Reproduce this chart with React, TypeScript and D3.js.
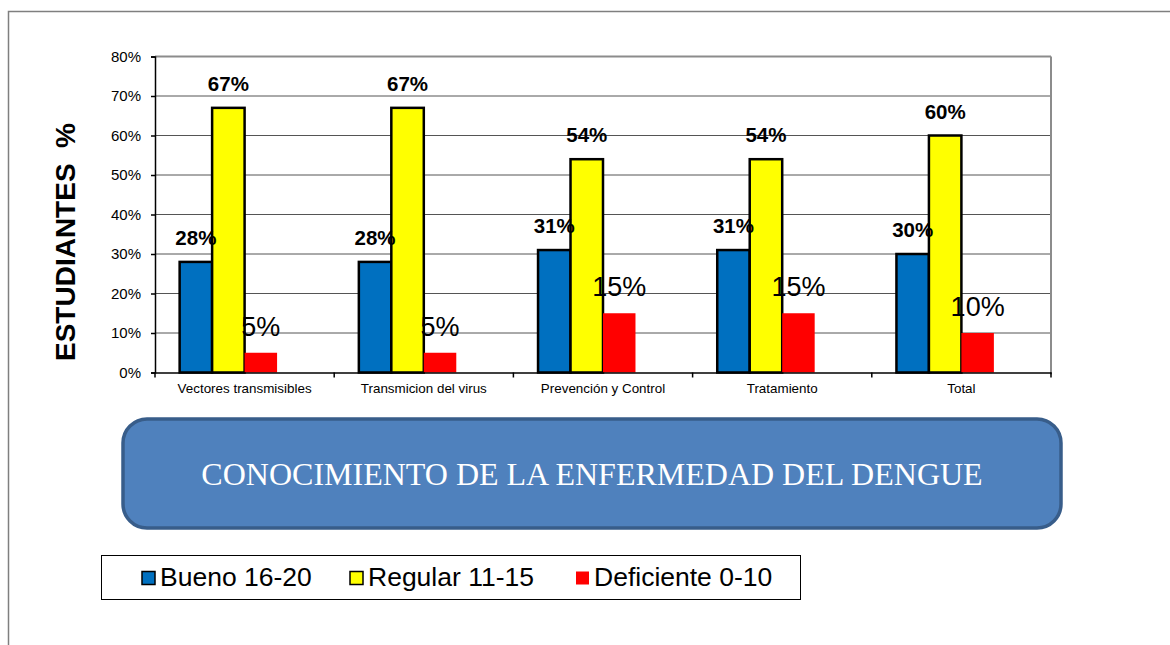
import { useEffect, useRef } from "react";
import { axisBottom, axisLeft, scaleBand, scaleLinear, select } from "d3";

const categories = [
  "Vectores transmisibles",
  "Transmicion del virus",
  "Prevención y Control",
  "Tratamiento",
  "Total",
];
const seriesNames = ["Bueno 16-20", "Regular 11-15", "Deficiente 0-10"];
const bueno = [0.28, 0.28, 0.31, 0.31, 0.3];
const regular = [0.67, 0.67, 0.54, 0.54, 0.6];
const deficiente = [0.05, 0.05, 0.15, 0.15, 0.1];
const yTicks = [0, 0.1, 0.2, 0.3, 0.4, 0.5, 0.6, 0.7, 0.8];
const colors = ["#0070C0", "#FFFF00", "#FF0000"];
const title = "CONOCIMIENTO DE LA ENFERMEDAD DEL DENGUE";
const yTitle = "ESTUDIANTES  %";

const sans = "'Liberation Sans', Arial, sans-serif";

export default function App() {
  const ref = useRef<SVGSVGElement>(null);

  useEffect(() => {
    const root = select(ref.current);
    root.selectAll("*").remove();

    const left = 155;
    const right = 1051;
    const top = 56.5;
    const bottom = 372.5;

    // outer frame (only top and left edges visible)
    root.append("path")
      .attr("d", "M8.5,645 L8.5,11.5 L1170,11.5")
      .attr("fill", "none")
      .attr("stroke", "#7f7f7f")
      .attr("stroke-width", 1.5);

    const x = scaleBand<string>()
      .domain(categories)
      .range([left, right])
      .paddingInner(0.275)
      .paddingOuter(0.1375);

    // four slots per group, the last one is empty
    const inner = scaleBand<string>()
      .domain([...seriesNames, ""])
      .range([0, x.bandwidth()]);

    const y = scaleLinear().domain([0, 0.8]).range([bottom, top]);

    const g = root.append("g");

    // gridlines
    g.selectAll(".grid")
      .data(yTicks.slice(1))
      .enter()
      .append("line")
      .attr("x1", left)
      .attr("x2", right)
      .attr("y1", d => y(d))
      .attr("y2", d => y(d))
      .attr("stroke", d => (d === 0.8 ? "#8c8c8c" : "#555"))
      .attr("stroke-width", d => (d === 0.8 ? 2 : 1));

    // right plot edge
    g.append("line")
      .attr("x1", right)
      .attr("x2", right)
      .attr("y1", top)
      .attr("y2", bottom + 2)
      .attr("stroke", "#8c8c8c")
      .attr("stroke-width", 2);

    const all = [bueno, regular, deficiente];
    all.forEach((vals, si) => {
      g.selectAll(`.bar${si}`)
        .data(vals)
        .enter()
        .append("rect")
        .attr("x", (_d, i) => (x(categories[i]) as number) + (inner(seriesNames[si]) as number))
        .attr("y", d => y(d))
        .attr("width", inner.bandwidth())
        .attr("height", d => bottom - y(d))
        .attr("fill", colors[si])
        .attr("stroke", si === 2 ? "none" : "#000")
        .attr("stroke-width", 2.5);
    });

    // value labels
    all.forEach((vals, si) => {
      g.selectAll(`.lab${si}`)
        .data(vals)
        .enter()
        .append("text")
        .attr("x", (_d, i) => (x(categories[i]) as number) + (inner(seriesNames[si]) as number) + inner.bandwidth() / 2)
        .attr("y", d => y(d) - 17)
        .attr("text-anchor", "middle")
        .attr("font-family", sans)
        .attr("font-size", si === 2 ? 27 : 20.5)
        .attr("font-weight", si === 2 ? "normal" : "bold")
        .attr("fill", "#000")
        .text(d => `${Math.round(d * 100)}%`);
    });

    // axes
    const yAxis = g.append("g")
      .attr("transform", `translate(${left},0)`)
      .call(axisLeft(y).tickValues(yTicks).tickFormat(d => `${Math.round((d as number) * 100)}%`).tickSize(4).tickPadding(10));
    yAxis.select(".domain").attr("stroke", "#000").attr("stroke-width", 1.5);
    yAxis.selectAll(".tick line").attr("stroke", "#000").attr("stroke-width", 1.5);
    yAxis.selectAll("text").attr("font-family", sans).attr("font-size", 15).attr("fill", "#000");

    const xAxis = g.append("g")
      .attr("transform", `translate(0,${bottom})`)
      .call(axisBottom(x).tickSize(0).tickPadding(11));
    xAxis.select(".domain").attr("stroke", "#000").attr("stroke-width", 1.5);
    xAxis.selectAll("text").attr("font-family", sans).attr("font-size", 13.4).attr("fill", "#000");

    // category boundary ticks
    const bounds = [left, ...categories.map(c => (x(c) as number) + x.bandwidth() + (x.step() - x.bandwidth()) / 2)];
    g.selectAll(".xtick")
      .data(bounds)
      .enter()
      .append("line")
      .attr("x1", d => d)
      .attr("x2", d => d)
      .attr("y1", bottom)
      .attr("y2", bottom + 5)
      .attr("stroke", "#000")
      .attr("stroke-width", 1.5);

    // y title
    root.append("text")
      .attr("transform", "translate(75,242) rotate(-90)")
      .attr("text-anchor", "middle")
      .attr("font-family", sans)
      .attr("font-size", 28)
      .attr("font-weight", "bold")
      .style("white-space", "pre")
      .text(yTitle);

    // title box
    root.append("rect")
      .attr("x", 123)
      .attr("y", 419)
      .attr("width", 938)
      .attr("height", 109)
      .attr("rx", 24)
      .attr("fill", "#4F81BD")
      .attr("stroke", "#385D8A")
      .attr("stroke-width", 3.5);
    root.append("text")
      .attr("x", 592)
      .attr("y", 485)
      .attr("text-anchor", "middle")
      .attr("font-family", "'Liberation Serif', 'Times New Roman', serif")
      .attr("font-size", 32)
      .attr("fill", "#fff")
      .text(title);

    // legend
    const lg = root.append("g");
    lg.append("rect")
      .attr("x", 101.5)
      .attr("y", 555.5)
      .attr("width", 699)
      .attr("height", 44)
      .attr("fill", "#fff")
      .attr("stroke", "#000")
      .attr("stroke-width", 1);
    const legendX = [141, 349, 575];
    seriesNames.forEach((name, i) => {
      lg.append("rect")
        .attr("x", legendX[i] + 1)
        .attr("y", 571.5)
        .attr("width", 13)
        .attr("height", 13)
        .attr("fill", colors[i])
        .attr("stroke", i === 2 ? "none" : "#000")
        .attr("stroke-width", 1.5);
      lg.append("text")
        .attr("x", legendX[i] + 19)
        .attr("y", 586)
        .attr("font-family", sans)
        .attr("font-size", 26.5)
        .attr("fill", "#000")
        .text(name);
    });
  }, []);

  return (
    <svg
      ref={ref}
      width={1170}
      height={645}
      style={{ position: "absolute", left: 0, top: 0, background: "#fff" }}
    />
  );
}
